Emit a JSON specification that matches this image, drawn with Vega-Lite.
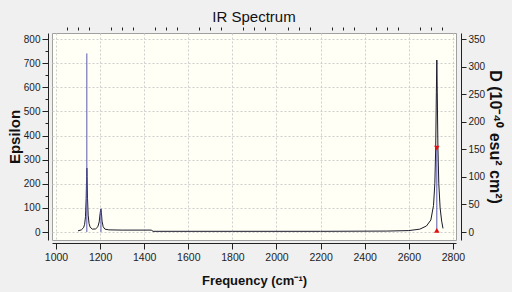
{
  "$schema": "https://vega.github.io/schema/vega-lite/v6.json",
  "autosize": {"type": "none"},
  "width": 404,
  "height": 207,
  "padding": {"left": 52, "top": 33, "right": 56, "bottom": 52},
  "background": "#f0f0f0",
  "config": {
    "view": {"fill": "#fffff6", "stroke": "#a0a0a0", "strokeWidth": 1},
    "font": "Liberation Sans",
    "axis": {"labelFont": "Liberation Sans", "titleFont": "Liberation Sans", "labelColor": "#222222", "titleColor": "#111111", "domainColor": "#222222", "tickColor": "#222222", "labelFontSize": 10.5, "gridColor": "#cfcfcf", "gridDash": [2, 2]}
  },
  "title": {"text": "IR Spectrum", "fontSize": 15, "fontWeight": 500, "font": "Liberation Sans", "color": "#111111", "offset": 2, "anchor": "middle"},
  "datasets": {
    "curve": [
      {"freq": 1100, "eps": 5}, {"freq": 1115, "eps": 9}, {"freq": 1125, "eps": 18}, {"freq": 1130, "eps": 32},
      {"freq": 1134, "eps": 65}, {"freq": 1137, "eps": 140}, {"freq": 1139, "eps": 230}, {"freq": 1140, "eps": 265},
      {"freq": 1141, "eps": 230}, {"freq": 1143, "eps": 140}, {"freq": 1146, "eps": 70}, {"freq": 1150, "eps": 35},
      {"freq": 1155, "eps": 20}, {"freq": 1165, "eps": 12}, {"freq": 1180, "eps": 13}, {"freq": 1190, "eps": 22},
      {"freq": 1196, "eps": 42}, {"freq": 1200, "eps": 75}, {"freq": 1203, "eps": 95}, {"freq": 1204, "eps": 96},
      {"freq": 1206, "eps": 80}, {"freq": 1209, "eps": 45}, {"freq": 1214, "eps": 22}, {"freq": 1222, "eps": 12},
      {"freq": 1240, "eps": 9}, {"freq": 1300, "eps": 8}, {"freq": 1432, "eps": 8}, {"freq": 1440, "eps": 3},
      {"freq": 1800, "eps": 3}, {"freq": 2200, "eps": 3}, {"freq": 2500, "eps": 4}, {"freq": 2600, "eps": 6},
      {"freq": 2650, "eps": 12}, {"freq": 2680, "eps": 25}, {"freq": 2700, "eps": 50}, {"freq": 2712, "eps": 110},
      {"freq": 2718, "eps": 200}, {"freq": 2722, "eps": 350}, {"freq": 2725, "eps": 580}, {"freq": 2727, "eps": 713},
      {"freq": 2729, "eps": 580}, {"freq": 2732, "eps": 350}, {"freq": 2736, "eps": 200}, {"freq": 2742, "eps": 100},
      {"freq": 2749, "eps": 45}, {"freq": 2755, "eps": 15}
    ],
    "sticks": [
      {"freq": 1140, "d": 324}, {"freq": 1204, "d": 42}, {"freq": 2727, "d": 152}
    ],
    "marks": [
      {"freq": 2727, "d": 152, "dir": "down"}, {"freq": 2727, "d": 3, "dir": "up"}
    ]
  },
  "layer": [
    {
      "data": {"name": "curve"},
      "mark": {"type": "line", "color": "#1a1a2a", "strokeWidth": 1},
      "encoding": {
        "x": {"field": "freq", "type": "quantitative", "scale": {"domain": [982, 2814], "nice": false, "zero": false},
          "axis": {"title": "Frequency (cm⁻¹)", "titleFontSize": 13, "titleFontWeight": "bold", "format": "d", "values": [1000, 1200, 1400, 1600, 1800, 2000, 2200, 2400, 2600, 2800], "offset": 3, "tickSize": 6, "labelPadding": 3, "titlePadding": 12, "grid": true}},
        "y": {"field": "eps", "type": "quantitative", "scale": {"domain": [-33, 825], "nice": false, "zero": false},
          "axis": {"title": "Epsilon", "titleFontSize": 15, "titleFontWeight": "bold", "format": "d", "labelFontSize": 10, "values": [0, 100, 200, 300, 400, 500, 600, 700, 800], "offset": 4, "tickSize": 6, "labelPadding": 2, "titlePadding": 1, "grid": true, "orient": "left"}}
      }
    },
    {
      "data": {"name": "sticks"},
      "mark": {"type": "rule", "color": "#5a5ab0", "strokeWidth": 1},
      "encoding": {
        "x": {"field": "freq", "type": "quantitative", "scale": {"domain": [982, 2814], "nice": false, "zero": false},
          "axis": {"title": null, "labels": false, "grid": false, "values": [1050, 1100, 1150, 1250, 1300, 1350, 1450, 1500, 1550, 1650, 1700, 1750, 1850, 1900, 1950, 2050, 2100, 2150, 2250, 2300, 2350, 2450, 2500, 2550, 2650, 2700, 2750], "offset": 3, "tickSize": 3, "domain": false}},
        "y": {"field": "d", "type": "quantitative", "scale": {"domain": [-14.4, 361], "nice": false, "zero": false},
          "axis": {"title": "D (10⁻⁴⁰ esu² cm²)", "titleFontSize": 16, "titleFontWeight": "bold", "format": "d", "labelFontSize": 10, "values": [0, 50, 100, 150, 200, 250, 300, 350], "offset": 5, "tickSize": 5, "labelPadding": 2, "titlePadding": 2, "grid": false, "orient": "right"}},
        "y2": {"datum": 0}
      }
    },
    {
      "data": {"name": "marks"},
      "mark": {"type": "point", "filled": true, "color": "#e01010", "size": 30, "opacity": 1},
      "encoding": {
        "x": {"field": "freq", "type": "quantitative", "scale": {"domain": [982, 2814], "nice": false, "zero": false}, "axis": null},
        "y": {"field": "d", "type": "quantitative", "scale": {"domain": [-14.4, 361], "nice": false, "zero": false}, "axis": null},
        "shape": {"field": "dir", "type": "nominal", "scale": {"domain": ["down", "up"], "range": ["triangle-down", "triangle-up"]}, "legend": null}
      }
    },
    {
      "data": {"name": "sticks"},
      "mark": {"type": "rule", "opacity": 0},
      "encoding": {
        "x": {"field": "freq", "type": "quantitative", "scale": {"domain": [982, 2814], "nice": false, "zero": false}, "axis": null},
        "y": {"field": "d", "type": "quantitative", "scale": {"domain": [-33, 825], "nice": false, "zero": false},
          "axis": {"title": null, "labels": false, "grid": false, "domain": false, "values": [50, 150, 250, 350, 450, 550, 650, 750], "offset": 4, "tickSize": 3, "orient": "left"}}
      }
    }
  ],
  "resolve": {"scale": {"y": "independent"}, "axis": {"x": "independent", "y": "independent"}}
}
